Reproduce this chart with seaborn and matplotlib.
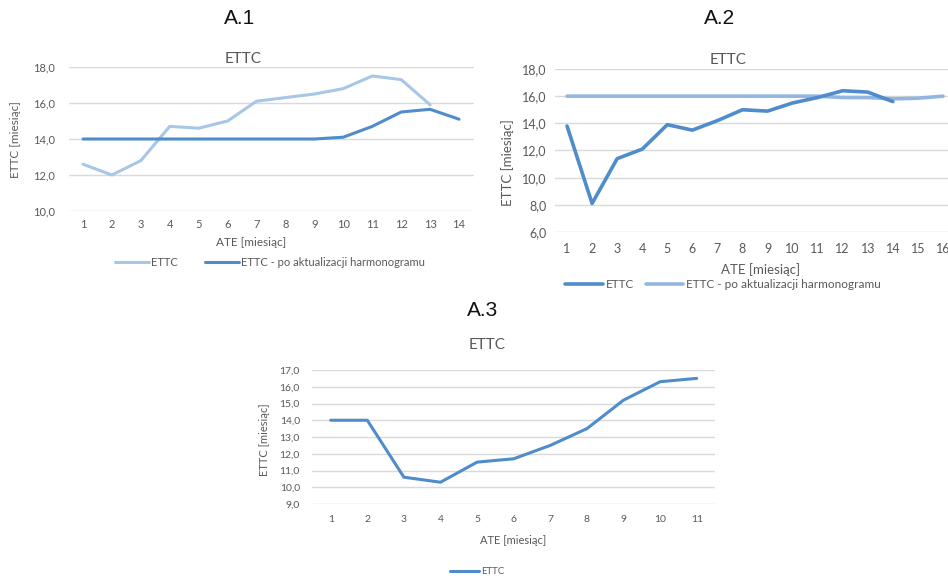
import numpy as np
import pandas as pd
import matplotlib
matplotlib.use("Agg")
import matplotlib.pyplot as plt
import seaborn as sns

# --- data ---
a1_months = list(range(1, 15))
a1_ettc = [12.6, 12.0, 12.8, 14.7, 14.6, 15.0, 16.1, 16.3, 16.5, 16.8, 17.5, 17.3, 15.9, np.nan]
a1_ettc_upd = [14.0, 14.0, 14.0, 14.0, 14.0, 14.0, 14.0, 14.0, 14.0, 14.1, 14.7, 15.5, 15.65, 15.1]

a2_months = list(range(1, 17))
a2_ettc = [13.8, 8.1, 11.4, 12.1, 13.9, 13.5, 14.2, 15.0, 14.9, 15.5, 15.9, 16.4, 16.3, 15.6, np.nan, np.nan]
a2_ettc_upd = [16.0, 16.0, 16.0, 16.0, 16.0, 16.0, 16.0, 16.0, 16.0, 16.0, 16.0, 15.9, 15.9, 15.8, 15.85, 16.0]

a3_months = list(range(1, 12))
a3_ettc = [14.0, 14.0, 10.6, 10.3, 11.5, 11.7, 12.5, 13.5, 15.2, 16.3, 16.5]

a1_yticks = [10.0, 12.0, 14.0, 16.0, 18.0]
a2_yticks = [6.0, 8.0, 10.0, 12.0, 14.0, 16.0, 18.0]
a3_yticks = [9.0, 10.0, 11.0, 12.0, 13.0, 14.0, 15.0, 16.0, 17.0]

lbl_ettc = "ETTC"
lbl_upd = "ETTC - po aktualizacji harmonogramu"

sns.set_theme(style="white")
plt.rcParams["font.family"] = ["Lato", "DejaVu Sans"]

W, H = 948, 578
fig = plt.figure(figsize=(W / 100, H / 100), dpi=100)
fig.patch.set_facecolor("white")

LIGHT = "#a8c6e6"
DARK = "#4f8ccb"
LIGHT2 = "#93b6e0"
GRID = "#d9d9d9"
TXT = "#595959"
HEAD = ["Liberation Sans Narrow", "Liberation Sans", "DejaVu Sans"]


def px_box(l, t, r, b):
    return [l / W, 1 - b / H, (r - l) / W, (b - t) / H]


def ftext(x, y, s, **kw):
    fig.text(x / W, 1 - y / H, s, ha="center", va="center", **kw)


def style_ax(ax, n, yticks, tsize, ypad, xpad):
    ax.set_xlim(0.5, n + 0.5)
    ax.set_ylim(yticks[0], yticks[-1])
    ax.set_xticks(range(1, n + 1))
    ax.set_yticks(yticks)
    ax.set_yticklabels([f"{v:.1f}".replace(".", ",") for v in yticks])
    ax.grid(axis="y", color=GRID, linewidth=1)
    ax.set_axisbelow(True)
    for s in ax.spines.values():
        s.set_visible(False)
    ax.tick_params(length=0, labelsize=tsize, labelcolor=TXT)
    ax.tick_params(axis="y", pad=ypad)
    ax.tick_params(axis="x", pad=xpad)
    ax.set_xlabel("")
    ax.set_ylabel("")
    ax.set_facecolor("none")


# ---------- A.1 ----------
df1 = pd.DataFrame({"ATE": a1_months, lbl_ettc: a1_ettc, lbl_upd: a1_ettc_upd})
ax1 = fig.add_axes(px_box(68.5, 67, 473.5, 211))
sns.lineplot(data=df1, x="ATE", y=lbl_ettc, ax=ax1, color=LIGHT, linewidth=2.2, label=lbl_ettc)
sns.lineplot(data=df1, x="ATE", y=lbl_upd, ax=ax1, color=DARK, linewidth=2.2, label=lbl_upd)
style_ax(ax1, 14, a1_yticks, 8, 10, 6)
ax1.legend(loc="center", bbox_to_anchor=(270 / W, 1 - 262 / H), bbox_transform=fig.transFigure,
           ncol=2, frameon=False, fontsize=8, labelcolor=TXT, handlelength=3, handletextpad=0.2,
           columnspacing=2.5)
ftext(240, 18, "A.1", fontsize=15, family=HEAD, color="#111111")
ftext(243, 59, "ETTC", fontsize=11, color=TXT)
ftext(251, 242, "ATE [miesiąc]", fontsize=8.5, color=TXT)
ftext(16, 140, "ETTC [miesiąc]", fontsize=8.5, color=TXT, rotation=90)

# ---------- A.2 ----------
df2 = pd.DataFrame({"ATE": a2_months, lbl_ettc: a2_ettc, lbl_upd: a2_ettc_upd})
ax2 = fig.add_axes(px_box(554.5, 69, 955.5, 232))
sns.lineplot(data=df2, x="ATE", y=lbl_upd, ax=ax2, color=LIGHT2, linewidth=2.6, label=lbl_upd)
sns.lineplot(data=df2, x="ATE", y=lbl_ettc, ax=ax2, color=DARK, linewidth=2.6, label=lbl_ettc)
style_ax(ax2, 16, a2_yticks, 9, 6, 8)
h, l = ax2.get_legend_handles_labels()
ax2.legend(h[::-1], l[::-1], loc="center", bbox_to_anchor=(723 / W, 1 - 285 / H),
           bbox_transform=fig.transFigure, ncol=2, frameon=False, fontsize=8.5, labelcolor=TXT,
           handlelength=3.2, handletextpad=0.2, columnspacing=1.0)
ftext(720, 18, "A.2", fontsize=15, family=HEAD, color="#111111")
ftext(728, 60, "ETTC", fontsize=11, color=TXT)
ftext(761, 270, "ATE [miesiąc]", fontsize=9.5, color=TXT)
ftext(508, 163, "ETTC [miesiąc]", fontsize=9.5, color=TXT, rotation=90)

# ---------- A.3 ----------
df3 = pd.DataFrame({"ATE": a3_months, lbl_ettc: a3_ettc})
ax3 = fig.add_axes(px_box(312.4, 370, 715, 504))
sns.lineplot(data=df3, x="ATE", y=lbl_ettc, ax=ax3, color=DARK, linewidth=2.2, label=lbl_ettc)
style_ax(ax3, 11, a3_yticks, 7.5, 9, 8)
ax3.legend(loc="center", bbox_to_anchor=(477 / W, 1 - 572 / H), bbox_transform=fig.transFigure,
           frameon=False, fontsize=7, labelcolor=TXT, handlelength=3, handletextpad=0.2)
ftext(483, 310, "A.3", fontsize=15, family=HEAD, color="#111111")
ftext(487, 345, "ETTC", fontsize=11, color=TXT)
ftext(513, 540, "ATE [miesiąc]", fontsize=8, color=TXT)
ftext(265, 440, "ETTC [miesiąc]", fontsize=8, color=TXT, rotation=90)

fig.savefig("out.png", dpi=100, facecolor="white")
